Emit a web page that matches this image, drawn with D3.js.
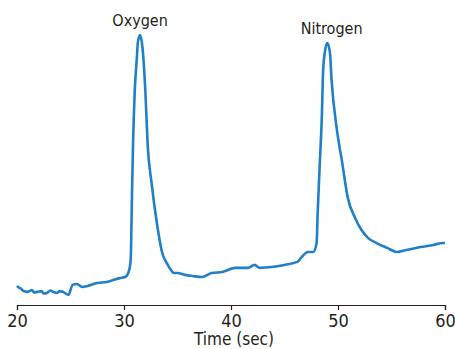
<!DOCTYPE html>
<html>
<head>
<meta charset="utf-8">
<script src="https://cdn.jsdelivr.net/npm/d3@7"></script>
<style>
  body { margin: 0; background: #fff; }
  text { font-family: "DejaVu Sans Condensed", "Liberation Sans Narrow", sans-serif; fill: #231f20; }
</style>
</head>
<body>
<div id="chart"></div>
<script>
// retention time (sec) and detector signal (arbitrary units)
const timeSec = [
  20.0, 20.1, 20.4, 20.6, 21.0, 21.4, 21.6, 21.9, 22.3, 22.5, 22.8, 23.1, 23.4, 23.7, 24.0, 24.3, 24.8, 25.2, 25.6, 26.1, 26.6,
  27.5, 28.4, 29.0, 29.6, 30.1, 30.4, 30.6, 30.65, 30.75, 30.85, 31.0, 31.2, 31.3, 31.5,
  31.7, 32.0, 32.2, 32.6, 33.1, 33.55, 34.1, 34.7, 35.0, 35.7, 36.4, 37.3, 38.2, 39.2,
  40.4, 41.6, 42.2, 42.7, 43.8, 45.0, 46.2, 46.6, 47.2, 47.7, 48.0, 48.1, 48.3, 48.5,
  48.6, 48.8, 49.0, 49.25, 49.4, 49.9, 50.4, 50.9, 51.6, 52.2, 52.8, 53.6, 54.6, 55.5,
  56.4, 57.7, 58.9, 59.8, 60.0
];
const signal = [
  5.2, 4.8, 4.1, 3.3, 3.0, 3.7, 2.8, 3.0, 3.3, 2.4, 2.6, 3.5, 3.0, 2.6, 3.3, 3.0, 1.9, 5.6, 5.9, 4.8, 5.2,
  6.3, 6.7, 7.4, 8.1, 8.5, 10.0, 13.7, 17.8, 40.0, 58.5, 77.0, 89.6, 95.6, 98.1,
  94.4, 77.0, 58.5, 42.6, 27.8, 17.8, 13.0, 10.0, 10.0, 9.3, 8.9, 8.5, 10.0, 10.4,
  11.9, 11.9, 13.0, 11.9, 12.2, 13.0, 14.1, 15.9, 17.8, 17.8, 21.1, 32.2, 50.7, 69.3,
  84.1, 92.6, 95.2, 91.5, 81.5, 63.0, 50.7, 38.1, 30.4, 25.9, 23.0, 21.1, 19.3, 17.8,
  18.5, 19.6, 20.4, 21.1, 21.1
];
const tickValues = [20, 30, 40, 50, 60];
const peakNames = ['Oxygen', 'Nitrogen'];
const peakLabelTimes = [31.5, 49.4];
const peakHeights = [98.1, 95.2];

const width = 455, height = 349;
const lineColor = '#1f80c8';

const svg = d3.select('#chart')
  .append('svg')
  .attr('width', width)
  .attr('height', height);

const x = d3.scaleLinear().domain([20, 60]).range([17, 445]);
const y = d3.scaleLinear().domain([0, 100]).range([300, 30]);

const points = timeSec.map((t, i) => [t, signal[i]]);

const line = d3.line()
  .x(d => x(d[0]))
  .y(d => y(d[1]))
  .curve(d3.curveMonotoneX);

svg.append('path')
  .datum(points)
  .attr('fill', 'none')
  .attr('stroke', lineColor)
  .attr('stroke-width', 2.6)
  .attr('stroke-linejoin', 'round')
  .attr('d', line);

const axis = svg.append('g')
  .attr('transform', 'translate(0,305)')
  .call(d3.axisBottom(x).tickValues(tickValues).tickSizeOuter(0).tickSize(5).tickPadding(4));

axis.select('.domain').attr('stroke', '#231f20').attr('stroke-width', 1.2);
axis.selectAll('.tick line').attr('stroke', '#231f20').attr('stroke-width', 1.2);
axis.selectAll('.tick text')
  .style('font-size', '18px')
  .style('font-family', '"DejaVu Sans Condensed", "Liberation Sans Narrow", sans-serif')
  .attr('fill', '#231f20');

svg.append('text')
  .attr('x', 234)
  .attr('y', 345)
  .attr('text-anchor', 'middle')
  .style('font-size', '17px')
  .text('Time (sec)');

svg.selectAll('.peak')
  .data(peakNames)
  .enter()
  .append('text')
  .attr('class', 'peak')
  .attr('x', (d, i) => x(peakLabelTimes[i]))
  .attr('y', (d, i) => y(peakHeights[i]) - 9)
  .attr('text-anchor', 'middle')
  .style('font-size', '16px')
  .text(d => d);
</script>
</body>
</html>
